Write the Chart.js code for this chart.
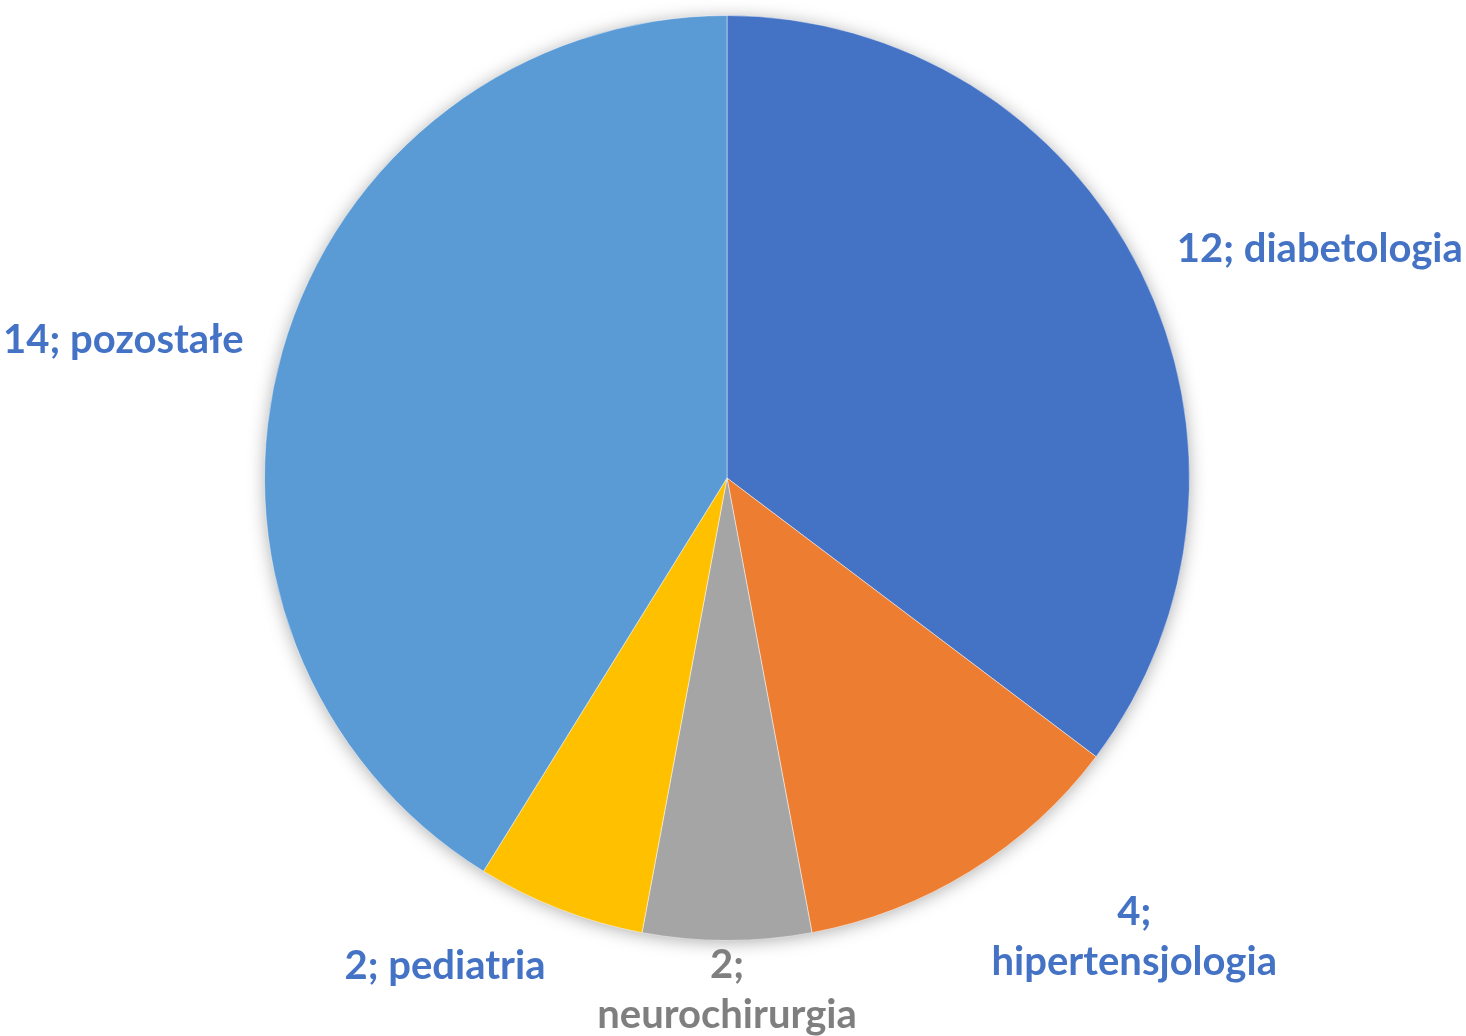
<!DOCTYPE html>
<html>
<head>
<meta charset="utf-8">
<script src="https://cdn.jsdelivr.net/npm/chart.js@4/dist/chart.umd.min.js"></script>
<style>
  html, body { margin: 0; padding: 0; background: #fff; }
  #wrap { width: 1466px; height: 1036px; }
</style>
</head>
<body>
<div id="wrap"><canvas id="chart" width="1466" height="1036"></canvas></div>
<script>
// ── Data ────────────────────────────────────────────────────────────────────
const CATEGORIES = ["diabetologia", "hipertensjologia", "neurochirurgia", "pediatria", "pozostałe"];
const VALUES = [12, 4, 2, 2, 14];
// labels that Excel wrapped after the "N;" part
const WRAPPED = [false, true, true, false, false];

const SLICE_COLORS = ["#4472C4", "#ED7D31", "#A5A5A5", "#FFC000", "#5B9BD5"];
const LABEL_COLORS = ["#4472C4", "#4472C4", "#7F7F7F", "#4472C4", "#4472C4"];

const FONT = "bold 40px Lato, 'Open Sans', sans-serif";
const LINE_H = 50;

// soft shadow under the whole pie
const pieShadow = {
    id: "pieShadow",
    beforeDatasetsDraw(chart) {
        const arc = chart.getDatasetMeta(0).data[0];
        if (!arc) return;
        const ctx = chart.ctx;
        ctx.save();
        ctx.shadowColor = "rgba(0,0,0,0.35)";
        ctx.shadowBlur = 18;
        ctx.shadowOffsetY = 2;
        ctx.fillStyle = "#fff";
        ctx.beginPath();
        ctx.arc(arc.x, arc.y, arc.outerRadius - 1, 0, Math.PI * 2);
        ctx.fill();
        ctx.restore();
    },
};

// outside-end data labels
const outsideLabels = {
    id: "outsideLabels",
    afterDatasetsDraw(chart) {
        const ctx = chart.ctx;
        const H = chart.height;
        const meta = chart.getDatasetMeta(0);
        ctx.save();
        ctx.font = FONT;
        ctx.textBaseline = "middle";
        meta.data.forEach((arc, i) => {
            const mid = (arc.startAngle + arc.endAngle) / 2;
            const dx = Math.cos(mid), dy = Math.sin(mid);
            const r = arc.outerRadius + 40;
            const ax = arc.x + dx * r;
            const ay = arc.y + dy * r;

            const lines = WRAPPED[i]
                ? [VALUES[i] + ";", CATEGORIES[i]]
                : [VALUES[i] + "; " + CATEGORIES[i]];
            const w = Math.max(...lines.map(l => ctx.measureText(l).width));
            const h = lines.length * LINE_H;

            let left;
            if (dx > 0.3) left = ax;
            else if (dx < -0.3) left = ax - w;
            else left = ax - w / 2;

            let top = ay + (dy > 0 ? dy * h * 0.3 : dy * h / 2) - h / 2;
            if (top + h > H - 2) top = H - 2 - h;

            ctx.fillStyle = LABEL_COLORS[i];
            ctx.textAlign = "center";
            lines.forEach((l, k) => {
                ctx.fillText(l, left + w / 2, top + LINE_H / 2 + k * LINE_H + 6);
            });
        });
        ctx.restore();
    },
};

new Chart(document.getElementById("chart"), {
    type: "pie",
    data: {
        labels: CATEGORIES,
        datasets: [{
            data: VALUES,
            backgroundColor: SLICE_COLORS,
            borderColor: "rgba(255,255,255,0.45)",
            borderWidth: 1,
        }],
    },
    options: {
        responsive: false,
        animation: false,
        layout: { padding: { top: 15, bottom: 95, left: 264, right: 276 } },
        plugins: {
            legend: { display: false },
            tooltip: { enabled: false },
        },
    },
    plugins: [pieShadow, outsideLabels],
});
</script>
</body>
</html>
